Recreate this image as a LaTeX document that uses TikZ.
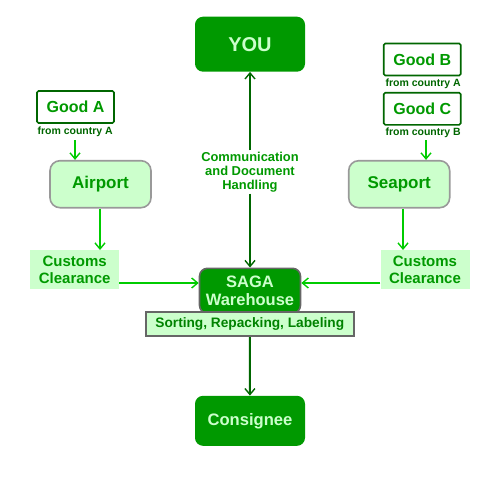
\documentclass[tikz,border=0pt]{standalone}
\usepackage{fontspec}
\setmainfont{Liberation Sans}
\usetikzlibrary{arrows.meta}
\definecolor{dg}{HTML}{009900}
\definecolor{ddg}{HTML}{006600}
\definecolor{lg}{HTML}{CCFFCC}
\definecolor{bg}{HTML}{00CC00}
\definecolor{gr}{HTML}{999999}
\definecolor{dgr}{HTML}{666666}
\tikzset{
  every node/.style={font=\bfseries, inner sep=0pt, align=center},
  darkbox/.style={fill=dg, rounded corners=8pt, text=lg},
  goodbox/.style={draw=ddg, line width=1.6pt, fill=white, rounded corners=1.5pt, text=dg, font=\fontsize{16}{18}\selectfont\bfseries, minimum width=77pt, minimum height=32pt},
  portbox/.style={draw=gr, line width=1.6pt, fill=lg, rounded corners=10pt, text=dg, font=\fontsize{17}{19}\selectfont\bfseries, minimum width=101pt, minimum height=47pt},
  custbox/.style={fill=lg, text=dg, font=\fontsize{15}{16.7}\selectfont\bfseries, minimum width=89pt, minimum height=39pt},
  small/.style={text=ddg, font=\fontsize{10.5}{12}\selectfont\bfseries},
  brarrow/.style={draw=bg, line width=2pt, -{Straight Barb[length=6pt,width=10pt,line width=1.4pt]}},
  dkarrow/.style={draw=ddg, line width=2pt, -{Straight Barb[length=6pt,width=10pt,line width=1.4pt]}},
}
\begin{document}
\begin{tikzpicture}[x=1pt,y=-1pt]
\useasboundingbox (0,0) rectangle (500,500);
% top
\node[darkbox, minimum width=110pt, minimum height=55pt, font=\fontsize{20}{22}\selectfont\bfseries] (you) at (250,44.2) {YOU};
% left column
\node[goodbox] (ga) at (75.5,107) {Good A};
\node[small] (gal) at (75.2,131.7) {from country A};
\node[portbox] (air) at (100.5,184.2) {Airport};
\node[custbox] (cl) at (74.7,269.7) {Customs\\Clearance};
% right column
\node[goodbox] (gb) at (422.2,59.5) {Good B};
\node[small] (gbl) at (423.2,83.3) {from country A};
\node[goodbox] (gc) at (422.2,108.8) {Good C};
\node[small] (gcl) at (423.2,132.7) {from country B};
\node[portbox] (sea) at (399.2,184.2) {Seaport};
\node[custbox] (cr) at (425,269.7) {Customs\\Clearance};
% center
\node[darkbox, draw=dgr, line width=1.6pt, minimum width=101pt, minimum height=45pt, font=\fontsize{16.5}{18.6}\selectfont\bfseries] (saga) at (250,290.8) {SAGA\\Warehouse};
\node[draw=dgr, line width=1.6pt, fill=lg, text=dg!85!black, minimum width=208pt, minimum height=24pt, font=\fontsize{13.7}{15}\selectfont\bfseries] (sort) at (249.8,324.2) {Sorting, Repacking, Labeling};
\node[darkbox, minimum width=110pt, minimum height=50pt, font=\fontsize{16.6}{18}\selectfont\bfseries] (cons) at (250,420.8) {Consignee};
\node[fill=white, text=dg, inner sep=1pt, font=\fontsize{12.9}{14.3}\selectfont\bfseries] (comm) at (250,172) {Communication\\and Document\\Handling};
% connectors
\coordinate (ha) at (75,140);
\coordinate (hb) at (426,140);
\coordinate (h) at (0,283);
\draw[brarrow] (ha) -- (ha |- air.north);
\draw[brarrow] (hb) -- (hb |- sea.north);
\draw[brarrow] ([xshift=-0.5pt]air.south) -- ([xshift=-0.5pt]air.south |- cl.north);
\draw[brarrow] ([xshift=3.8pt]sea.south) -- ([xshift=3.8pt]sea.south |- cr.north);
\draw[brarrow] (cl.east |- h) -- (saga.west |- h);
\draw[brarrow] (cr.west |- h) -- (saga.east |- h);
\draw[dkarrow] (comm) -- (you);
\draw[dkarrow] (comm) -- (saga);
\draw[dkarrow] (sort) -- (cons);
\end{tikzpicture}
\end{document}
